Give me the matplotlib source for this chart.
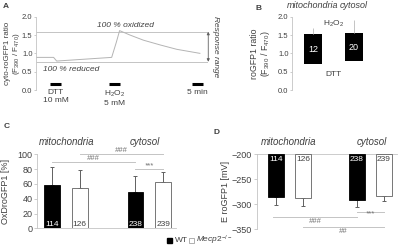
"""roGFP figure: panels A-D"""

import matplotlib.pyplot as plt
from matplotlib.patches import Rectangle

plt.rcParams["font.family"] = ["Liberation Sans", "DejaVu Sans"]
plt.rcParams["mathtext.fontset"] = "custom"
plt.rcParams["mathtext.rm"] = "Liberation Sans"
plt.rcParams["mathtext.it"] = "Liberation Sans:italic"

TXT = "#404040"
LIGHT = "#c4c4c4"
TRACE = "#b4b4b4"

# Panel A: ratio trace over time (min)
trace_t = [0, 8, 9.4, 34.4, 36.5, 38.0, 42.7, 48.8, 56.4, 64.0, 74.5]
trace_v = [0.89, 0.89, 0.79, 0.89, 1.30, 1.62, 1.50, 1.36, 1.23, 1.11, 1.00]
oxidized_level = 1.59
reduced_level = 0.77

# Panel B: floating bars (min..max) with upper whisker
b_groups = ["mitochondria", "cytosol"]
b_low = [0.70, 0.78]
b_high = [1.52, 1.55]
b_whisker = [1.70, 1.91]
b_n = ["12", "20"]

# Panels C/D
genotypes = ["WT", "Mecp2-/-"]
cd_groups = ["mitochondria", "cytosol"]
c_mean = [58.5, 55, 49, 62]
c_err = [25, 24, 22, 14]
d_mean = [-285, -287, -291, -283]
d_err = [16, 16, 14, 10]
cd_n = ["114", "126", "238", "239"]
cd_pos = [0, 1, 3, 4]

W, H = 400, 249


def px_axes(fig, x0, x1, y_top, y_bot):
    return fig.add_axes([x0 / W, 1 - y_bot / H, (x1 - x0) / W, (y_bot - y_top) / H])


def style(ax, fs=6.5, ln=2, pad=1.5):
    for s in ["top", "right", "bottom"]:
        ax.spines[s].set_visible(False)
    ax.spines["left"].set_color(LIGHT)
    ax.spines["left"].set_linewidth(0.6)
    ax.tick_params(axis="y", colors=LIGHT, labelcolor=TXT, labelsize=fs,
                   length=ln, width=0.6, pad=pad)
    ax.set_xticks([])
    ax.patch.set_alpha(0)


fig = plt.figure(figsize=(4, 2.49), dpi=100)

# ---------------- A
ax = px_axes(fig, 36, 207.6, 16.7, 90)
style(ax, 5.5, 1.5, 1)
ax.set_xlim(0, 78)
ax.set_ylim(0, 2)
ax.set_yticks([0, 0.5, 1.0, 1.5, 2.0])
ax.set_yticklabels(["0.0", "0.5", "1.0", "1.5", "2.0"])
ax.hlines([oxidized_level, reduced_level], 0, 78, color=LIGHT, lw=0.7)
ax.plot(trace_t, trace_v, color=TRACE, lw=0.7)
ax.text(27.7, 1.75, "100 % oxidized", style="italic", fontsize=6, color=TXT, va="center")
ax.text(3.2, 0.57, "100 % reduced", style="italic", fontsize=6, color=TXT, va="center")
for (t0, t1), lab in [((6.4, 11.4), "DTT\n10 mM"), ((33.2, 38.2), "H$_2$O$_2$\n5 mM"),
                      ((71, 76), "5 min")]:
    ax.plot([t0, t1], [0.16, 0.16], color="black", lw=2.2, solid_capstyle="butt",
            clip_on=False)
    ax.text((t0 + t1) / 2, 0.03, lab, ha="center", va="top", fontsize=6, color=TXT,
            linespacing=1.2)
ax.annotate("", xy=(78.3, oxidized_level), xytext=(78.3, reduced_level),
            arrowprops=dict(arrowstyle="<|-|>", color="#606060", lw=0.6,
                            mutation_scale=4, shrinkA=0, shrinkB=0),
            annotation_clip=False)
ax.text(81.8, (oxidized_level + reduced_level) / 2, "Response range", rotation=-90,
        style="italic", fontsize=6, color=TXT, ha="center", va="center")
ax.set_ylabel("cyto-roGFP1 ratio\n(F$_{390}$ / F$_{470}$)", fontsize=5.8, color=TXT,
              linespacing=1.05)
ax.yaxis.set_label_coords(-0.082, 0.5)
fig.text(3 / W, 1 - 6 / H, "A", fontsize=6, weight="bold", color=TXT, va="center")

# ---------------- B
ax = px_axes(fig, 292, 374.5, 16.7, 90)
style(ax, 5.5, 1.5, 1)
ax.set_xlim(-0.51, 1.5)
ax.set_ylim(0, 2)
ax.set_yticks([0, 0.5, 1.0, 1.5, 2.0])
ax.set_yticklabels(["0.0", "0.5", "1.0", "1.5", "2.0"])
for i in range(2):
    ax.vlines(i, b_high[i], b_whisker[i], color=LIGHT, lw=0.7)
    ax.bar(i, b_high[i] - b_low[i], bottom=b_low[i], width=0.42, color="black")
    ax.text(i, (b_low[i] + b_high[i]) / 2, b_n[i], color="white", ha="center",
            va="center", fontsize=6.5)
    ax.text(i, 2.3, b_groups[i], style="italic", fontsize=6.5, color=TXT,
            ha="center", va="center")
ax.text(0.5, 1.8, "H$_2$O$_2$", ha="center", va="center", fontsize=6, color=TXT)
ax.text(0.5, 0.42, "DTT", ha="center", va="center", fontsize=6, color=TXT)
ax.set_ylabel("roGFP1 ratio\n(F$_{390}$ / F$_{470}$)", fontsize=6.3, color=TXT,
              linespacing=1.05)
ax.yaxis.set_label_coords(-0.24, 0.5)
fig.text(256 / W, 1 - 8 / H, "B", fontsize=6, weight="bold", color=TXT, va="center")


def sig(ax, x0, x1, y, label, dy):
    ax.plot([x0, x1], [y, y], color=LIGHT, lw=0.7, clip_on=False)
    ax.text((x0 + x1) / 2, y + dy, label, ha="center", va="center", fontsize=5.5,
            color="#707070", style="italic")


def bars(ax, mean, err, base, n_y, up):
    for k, x in enumerate(cd_pos):
        wt = k % 2 == 0
        yerr = [[0], [err[k]]] if up else [[err[k]], [0]]
        ax.errorbar(x, mean[k], yerr=yerr, color="#606060", lw=0.7,
                    capsize=1.5, capthick=0.7, clip_on=False)
        ax.bar(x, mean[k] - base, bottom=base, width=0.57,
               color="black" if wt else "white",
               edgecolor="black" if wt else "#606060", lw=0.6, zorder=3)
        ax.text(x, n_y, cd_n[k], ha="center", va="center", fontsize=6,
                color="white" if wt else TXT, zorder=4)


# ---------------- C
ax = px_axes(fig, 37.3, 37.3 + 4.98 * 27.8, 154.3, 228.3)
style(ax)
ax.spines["bottom"].set_visible(True)
ax.spines["bottom"].set_color(LIGHT)
ax.spines["bottom"].set_linewidth(0.6)
ax.set_xlim(-0.53, 4.45)
ax.set_ylim(0, 100)
ax.set_yticks(range(0, 101, 20))
bars(ax, c_mean, c_err, 0, 5.5, True)
sig(ax, 1, 4, 100, "###", 5)
sig(ax, 0, 3, 89, "###", 5)
sig(ax, 3, 4, 80, "***", 4)
ax.set_ylabel("OxDroGFP1 [%]", fontsize=6.5, color=TXT)
ax.yaxis.set_label_coords(-0.2, 0.5)
ax.text(0.53, 117, cd_groups[0], style="italic", fontsize=7, color=TXT,
        ha="center", va="center")
ax.text(3.34, 117, cd_groups[1], style="italic", fontsize=7, color=TXT,
        ha="center", va="center")
fig.text(4 / W, 1 - 127 / H, "C", fontsize=6, weight="bold", color=TXT, va="center")

# ---------------- D
ax = px_axes(fig, 257, 396.7, 154.3, 229.3)
style(ax)
ax.spines["top"].set_visible(True)
ax.spines["top"].set_color(LIGHT)
ax.spines["top"].set_linewidth(0.6)
ax.set_xlim(-0.7, 4.47)
ax.set_ylim(-350, -200)
ax.set_yticks(range(-350, -199, 50))
bars(ax, d_mean, d_err, -200, -210, False)
sig(ax, 3, 4, -315, "***", -5)
sig(ax, -0.1, 3, -325, "###", -9)
sig(ax, 1, 4, -345, "##", -9)
ax.set_ylabel("E roGFP1 [mV]", fontsize=6.5, color=TXT)
ax.yaxis.set_label_coords(-0.19, 0.5)
ax.text(0.46, -175, cd_groups[0], style="italic", fontsize=7, color=TXT,
        ha="center", va="center")
ax.text(3.54, -175, cd_groups[1], style="italic", fontsize=7, color=TXT,
        ha="center", va="center")
fig.text(214 / W, 1 - 133 / H, "D", fontsize=6, weight="bold", color=TXT, va="center")

# ---------------- legend
ly = 1 - 240 / H
fig.patches.append(Rectangle((167 / W, ly - 2.5 / H), 5 / W, 5 / H, color="black",
                             transform=fig.transFigure))
fig.text(174.5 / W, ly, "WT", fontsize=6, color=TXT, va="center")
fig.patches.append(Rectangle((189 / W, ly - 2.5 / H), 5 / W, 5 / H, facecolor="white",
                             edgecolor="#909090", lw=0.5, transform=fig.transFigure))
fig.text(196 / W, ly, r"$\mathit{Mecp2}^{-/-}$", fontsize=6, color=TXT, va="center")

fig.savefig("out.png", dpi=100)
